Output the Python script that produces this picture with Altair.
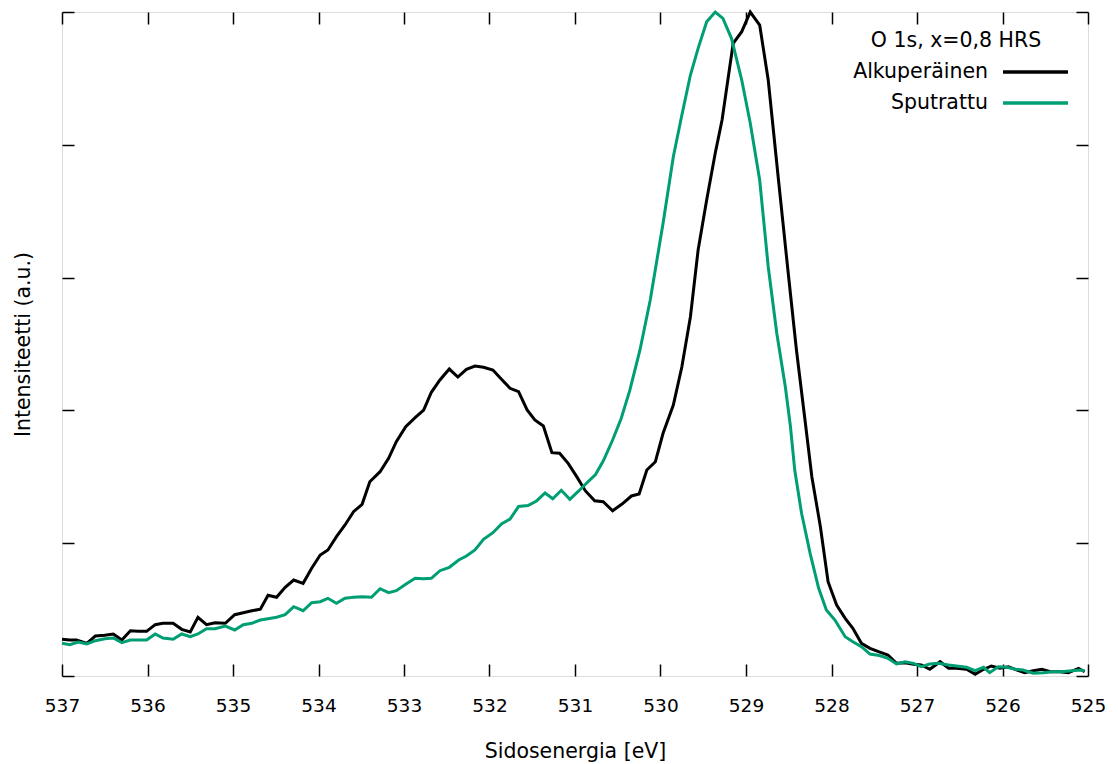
import altair as alt
import pandas as pd

series_names = ["Alkuperäinen", "Sputrattu"]
series_colors = ["#000000", "#009e73"]
legend_title = "O 1s, x=0,8 HRS"
x_ticks = [537, 536, 535, 534, 533, 532, 531, 530, 529, 528, 527, 526, 525]
y_ticks = [0, 20, 40, 60, 80, 100]

orig_energy = [537.00, 536.91, 536.83, 536.71, 536.61, 536.50, 536.40, 536.30, 536.20, 536.11,
               536.01, 535.91, 535.82, 535.70, 535.60, 535.50, 535.41, 535.31, 535.21, 535.09,
               534.98, 534.88, 534.78, 534.68, 534.59, 534.49, 534.39, 534.29, 534.18, 534.08,
               533.98, 533.89, 533.79, 533.69, 533.59, 533.49, 533.40, 533.28, 533.18, 533.09,
               532.98, 532.87, 532.77, 532.68, 532.58, 532.47, 532.37, 532.27, 532.17, 532.07,
               531.96, 531.86, 531.76, 531.66, 531.56, 531.47, 531.37, 531.27, 531.18, 531.08,
               530.98, 530.88, 530.77, 530.67, 530.56, 530.45, 530.34, 530.25, 530.16, 530.06,
               529.97, 529.85, 529.75, 529.65, 529.56, 529.46, 529.36, 529.28, 529.15, 529.05,
               528.95, 528.84, 528.74, 528.62, 528.51, 528.41, 528.31, 528.23, 528.13, 528.04,
               527.94, 527.84, 527.75, 527.65, 527.55, 527.45, 527.34, 527.24, 527.14, 527.04,
               526.95, 526.85, 526.73, 526.63, 526.54, 526.42, 526.32, 526.22, 526.13, 526.03,
               525.93, 525.83, 525.74, 525.64, 525.54, 525.44, 525.33, 525.23, 525.11, 525.04]
orig_intensity = [5.53, 5.42, 5.42, 4.92, 6.02, 6.13, 6.33, 5.42, 6.82, 6.73,
                  6.73, 7.73, 7.94, 7.94, 7.03, 6.63, 8.84, 7.73, 8.03, 7.94,
                  9.23, 9.53, 9.83, 10.05, 12.15, 11.85, 13.36, 14.46, 13.96, 16.22,
                  18.22, 18.98, 20.98, 22.74, 24.74, 25.86, 29.26, 30.77, 32.79, 35.29,
                  37.55, 38.90, 40.06, 42.73, 44.58, 46.23, 45.03, 46.19, 46.69, 46.49,
                  46.08, 44.68, 43.33, 42.82, 40.06, 38.55, 37.65, 33.63, 33.54, 32.03,
                  30.02, 27.91, 26.40, 26.25, 24.89, 25.90, 27.11, 27.41, 31.02, 32.27,
                  36.55, 40.81, 46.58, 54.11, 64.16, 71.69, 78.72, 83.73, 95.29, 97.04,
                  100.0, 98.04, 89.76, 74.70, 61.14, 49.10, 38.55, 30.02, 22.48, 14.20,
                  10.69, 8.69, 7.18, 4.92, 4.17, 3.66, 3.16, 1.91, 2.00, 1.76,
                  1.66, 1.01, 2.15, 1.16, 1.16, 1.01, 0.26, 1.01, 1.51, 1.16,
                  1.40, 0.90, 0.50, 0.80, 1.01, 0.65, 0.65, 0.50, 1.16, 0.65]

sput_energy = [537.00, 536.91, 536.81, 536.71, 536.61, 536.50, 536.40, 536.30, 536.20, 536.11,
               536.01, 535.91, 535.82, 535.70, 535.60, 535.50, 535.41, 535.31, 535.21, 535.09,
               534.98, 534.88, 534.78, 534.68, 534.59, 534.49, 534.39, 534.29, 534.18, 534.08,
               533.98, 533.89, 533.79, 533.69, 533.59, 533.49, 533.38, 533.28, 533.18, 533.09,
               532.98, 532.87, 532.77, 532.68, 532.58, 532.47, 532.36, 532.27, 532.17, 532.07,
               531.96, 531.86, 531.76, 531.66, 531.55, 531.45, 531.35, 531.26, 531.16, 531.06,
               530.96, 530.86, 530.76, 530.67, 530.56, 530.46, 530.36, 530.24, 530.12, 529.97,
               529.85, 529.75, 529.65, 529.56, 529.46, 529.36, 529.27, 529.17, 529.05, 528.95,
               528.84, 528.74, 528.64, 528.54, 528.48, 528.43, 528.35, 528.25, 528.15, 528.06,
               527.96, 527.84, 527.75, 527.65, 527.55, 527.44, 527.34, 527.24, 527.14, 527.04,
               526.95, 526.85, 526.75, 526.63, 526.54, 526.42, 526.32, 526.22, 526.15, 526.05,
               525.95, 525.85, 525.76, 525.64, 525.52, 525.42, 525.31, 525.19, 525.09, 525.04]
sput_intensity = [4.92, 4.71, 5.12, 4.82, 5.32, 5.62, 5.72, 5.02, 5.42, 5.42,
                  5.42, 6.33, 5.72, 5.53, 6.33, 5.92, 6.33, 7.12, 7.12, 7.53,
                  6.93, 7.73, 7.94, 8.43, 8.63, 8.84, 9.23, 10.44, 9.83, 11.04,
                  11.19, 11.70, 10.95, 11.70, 11.85, 11.94, 11.85, 13.15, 12.55, 12.85,
                  13.81, 14.71, 14.65, 14.71, 15.86, 16.37, 17.47, 18.07, 18.98, 20.59,
                  21.58, 22.89, 23.64, 25.53, 25.68, 26.36, 27.56, 26.70, 27.97, 26.61,
                  27.83, 29.11, 30.35, 32.38, 35.54, 38.78, 42.97, 49.10, 56.63, 68.18,
                  78.21, 84.49, 90.51, 94.53, 98.54, 100.0, 99.05, 96.04, 89.76, 83.24,
                  74.70, 61.64, 51.61, 43.57, 37.55, 31.02, 24.50, 18.48, 13.21, 9.94,
                  8.43, 5.92, 5.17, 4.41, 3.31, 3.09, 2.67, 1.81, 2.15, 1.91,
                  1.40, 1.81, 1.91, 1.66, 1.51, 1.31, 0.80, 1.31, 0.50, 1.40,
                  1.31, 1.01, 0.90, 0.41, 0.50, 0.65, 0.65, 0.80, 0.90, 0.80]

df = pd.concat([
    pd.DataFrame({"energy": orig_energy, "intensity": orig_intensity,
                  "series": series_names[0], "idx": range(len(orig_energy))}),
    pd.DataFrame({"energy": sput_energy, "intensity": sput_intensity,
                  "series": series_names[1], "idx": range(len(sput_energy))}),
])

W, H = 1026, 664
FONT = "DejaVu Sans"
TXT = 20.5

xscale = alt.Scale(domain=[537, 525], nice=False, zero=False)
yscale = alt.Scale(domain=[0, 100], nice=False, zero=True)
cscale = alt.Scale(domain=series_names, range=series_colors)

def base_axis(**kw):
    d = dict(grid=False, domain=False, labelFont=FONT, titleFont=FONT,
             labelColor="black", titleColor="black", tickColor="black",
             titleFontWeight="normal")
    d.update(kw)
    return alt.Axis(**d)

main = alt.Chart(df).mark_line(strokeWidth=3).encode(
    x=alt.X("energy:Q", scale=xscale,
            axis=base_axis(orient="bottom", values=x_ticks, format="d", ticks=False,
                           labelFontSize=18.5, labelPadding=20, labelFlush=False,
                           labelOverlap=False, title="Sidosenergia [eV]",
                           titleFontSize=TXT, titlePadding=27)),
    y=alt.Y("intensity:Q", scale=yscale,
            axis=base_axis(orient="left", values=y_ticks, labels=False, ticks=False,
                           title="Intensiteetti (a.u.)", titleFontSize=TXT, titlePadding=29)),
    color=alt.Color("series:N", scale=cscale, legend=None),
    order=alt.Order("idx:Q"),
)

def tick_layer(xorient, yorient):
    return alt.Chart(df).mark_line(strokeOpacity=0).encode(
        x=alt.X("energy:Q", scale=xscale,
                axis=base_axis(orient=xorient, values=x_ticks, labels=False, ticks=True,
                               tickSize=12, tickWidth=1.5, offset=-H, title=None)),
        y=alt.Y("intensity:Q", scale=yscale,
                axis=base_axis(orient=yorient, values=y_ticks, labels=False, ticks=True,
                               tickSize=12, tickWidth=1.5, offset=-W, title=None)),
        detail="series:N",
    )

ticks_a = tick_layer("top", "right")
ticks_b = tick_layer("bottom", "left")

legend_df = pd.DataFrame({"t": [legend_title]})
leg_title = alt.Chart(legend_df).mark_text(font=FONT, fontSize=TXT, align="center",
                                           baseline="middle", color="black").encode(
    text="t:N", x=alt.value(894), y=alt.value(29))

leg_layers = [leg_title]
for i, (name, col) in enumerate(zip(series_names, series_colors)):
    ldf = pd.DataFrame({"t": [name]})
    yv = 60 + 31 * i
    leg_layers.append(alt.Chart(ldf).mark_text(font=FONT, fontSize=TXT, align="right",
                                               baseline="middle", color="black").encode(
        text="t:N", x=alt.value(926), y=alt.value(yv)))
    leg_layers.append(alt.Chart(ldf).mark_rule(color=col, strokeWidth=3.5).encode(
        x=alt.value(941), x2=alt.value(1006), y=alt.value(yv)))

chart = alt.layer(main, ticks_a, ticks_b, *leg_layers).resolve_axis(
    x="independent", y="independent"
).properties(
    width=W, height=H,
    autosize=alt.AutoSizeParams(type="none"),
    padding={"left": 62, "top": 12, "right": 30, "bottom": 88},
).configure_view(stroke="black", strokeWidth=1.5).configure(background="white")

chart.save("out.html", embed_options={"renderer": "svg", "actions": False})
